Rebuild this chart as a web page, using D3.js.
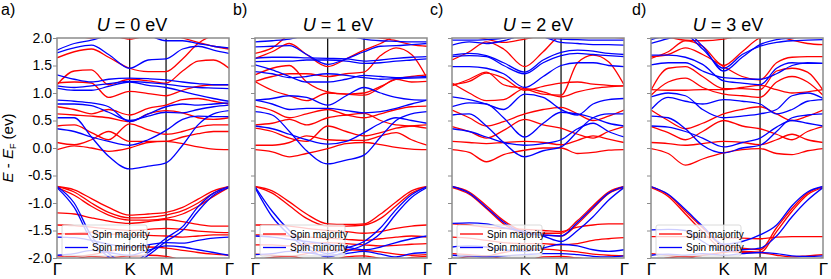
<!DOCTYPE html>
<html>
<head>
<meta charset="utf-8">
<script src="https://cdn.jsdelivr.net/npm/d3@7"></script>
<style>
  body { margin: 0; background: #fff; }
  svg { font-family: "Liberation Sans", Arial, sans-serif; }
</style>
</head>
<body>
<div id="chart"></div>
<script>
// k-path positions (fraction of Γ-K-M-Γ path) where band energies were read
const kGrid = [0, 0.1, 0.2, 0.3, 0.4226, 0.53, 0.634, 0.73, 0.82, 0.91, 1];
const kTicks = [0, 0.4226, 0.634, 1];
const kLabels = ["Γ", "K", "M", "Γ"];
const yTicks = [2.0, 1.5, 1.0, 0.5, 0.0, -0.5, -1.0, -1.5, -2.0];
const panelLetters = ["a)", "b)", "c)", "d)"];
const uValues = [0, 1, 2, 3];
const legendLabels = ["Spin majority", "Spin minority"];

// U = 0 eV
const majorityA = [
  [-0.70, -0.76, -0.92, -1.08, -1.22, -1.20, -1.17, -1.08, -0.93, -0.78, -0.70],
  [-0.70, -0.80, -1.00, -1.17, -1.27, -1.26, -1.22, -1.14, -1.00, -0.82, -0.70],
  [-0.72, -0.86, -1.06, -1.22, -1.31, -1.31, -1.28, -1.20, -1.06, -0.88, -0.72],
  [-1.18, -1.20, -1.27, -1.33, -1.37, -1.34, -1.30, -1.34, -1.39, -1.42, -1.42],
  [-1.40, -1.41, -1.44, -1.47, -1.50, -1.48, -1.46, -1.48, -1.51, -1.53, -1.54],
  [-1.56, -1.55, -1.53, -1.56, -1.58, -1.59, -1.60, -1.62, -1.60, -1.58, -1.58],
  [-1.96, -1.97, -1.94, -1.88, -1.80, -1.80, -1.82, -1.86, -1.90, -1.93, -1.95],
  [-2.06, -2.02, -1.97, -1.99, -1.96, -1.95, -1.97, -2.04, -2.08, -2.10, -2.10],
  [-0.03, 0.04, 0.00, -0.06, 0.00, 0.10, 0.12, 0.08, 0.02, -0.02, -0.03],
  [0.10, 0.06, 0.15, 0.30, 0.12, 0.12, 0.12, 0.20, 0.26, 0.30, 0.30],
  [0.40, 0.42, 0.28, 0.15, 0.44, 0.33, 0.25, 0.30, 0.38, 0.42, 0.42],
  [0.62, 0.60, 0.58, 0.55, 0.48, 0.62, 0.68, 0.64, 0.55, 0.52, 0.55],
  [0.75, 0.70, 0.62, 0.70, 0.60, 0.72, 0.78, 0.88, 0.90, 0.85, 0.80],
  [1.18, 1.20, 1.18, 0.92, 1.03, 0.99, 0.95, 1.05, 1.12, 1.15, 1.15],
  [1.15, 1.40, 1.42, 1.15, 1.25, 1.22, 1.18, 1.40, 1.58, 1.60, 1.45],
  [1.64, 1.75, 1.80, 1.65, 1.45, 1.39, 1.39, 1.62, 1.90, 2.05, 2.10],
  [2.10, 2.05, 2.00, 2.05, 1.98, 2.05, 2.10, 2.00, 1.92, 1.85, 1.80]
];
const minorityA = [
  [-0.70, -1.00, -1.60, -1.92, -2.10, -1.90, -1.64, -1.43, -1.07, -0.82, -0.70],
  [-0.72, -1.08, -1.68, -1.98, -2.15, -1.95, -1.70, -1.50, -1.15, -0.86, -0.72],
  [-1.62, -1.63, -1.68, -1.75, -1.80, -1.76, -1.72, -1.73, -1.68, -1.64, -1.62],
  [-1.95, -1.92, -1.86, -1.90, -1.95, -1.86, -1.78, -1.80, -1.85, -1.90, -1.95],
  [0.55, 0.55, 0.20, -0.15, -0.38, -0.33, -0.27, 0.05, 0.42, 0.62, 0.68],
  [0.35, 0.30, 0.20, 0.12, 0.05, 0.15, 0.32, 0.52, 0.58, 0.57, 0.57],
  [0.80, 0.80, 0.77, 0.65, 0.50, 0.58, 0.65, 0.64, 0.70, 0.75, 0.78],
  [0.87, 0.85, 0.82, 0.75, 0.48, 0.62, 0.75, 0.80, 0.78, 0.80, 0.82],
  [1.09, 1.05, 1.05, 1.12, 1.20, 1.14, 1.10, 1.03, 0.96, 0.90, 0.85],
  [1.13, 1.10, 1.13, 1.17, 1.21, 1.19, 1.16, 1.12, 1.10, 1.09, 1.08],
  [1.33, 1.25, 1.20, 1.25, 1.27, 1.26, 1.24, 1.20, 1.17, 1.15, 1.15],
  [1.73, 1.82, 1.87, 1.70, 1.45, 1.60, 1.62, 1.80, 1.85, 1.78, 1.72],
  [1.78, 1.90, 1.96, 2.05, 2.10, 2.05, 1.95, 1.95, 1.90, 1.85, 1.82]
];

// U = 1 eV
const majorityB = [
  [-0.70, -0.78, -0.98, -1.20, -1.38, -1.39, -1.38, -1.20, -0.98, -0.78, -0.70],
  [-0.70, -0.82, -1.05, -1.28, -1.42, -1.42, -1.40, -1.28, -1.05, -0.82, -0.70],
  [-1.40, -1.40, -1.42, -1.46, -1.50, -1.52, -1.55, -1.52, -1.46, -1.42, -1.40],
  [-1.58, -1.58, -1.60, -1.62, -1.64, -1.66, -1.68, -1.65, -1.62, -1.60, -1.62],
  [-1.76, -1.76, -1.78, -1.75, -1.72, -1.74, -1.76, -1.78, -1.77, -1.75, -1.74],
  [-1.93, -1.95, -1.97, -1.92, -1.86, -1.85, -1.86, -1.89, -1.93, -1.95, -1.94],
  [-2.04, -1.99, -1.97, -2.02, -2.05, -1.98, -1.96, -2.01, -2.05, -1.99, -1.97],
  [-0.03, -0.07, -0.16, -0.10, -0.01, 0.08, 0.10, 0.06, 0.01, -0.02, -0.03],
  [0.05, 0.05, 0.10, 0.22, 0.15, 0.14, 0.14, 0.22, 0.28, 0.15, 0.05],
  [0.36, 0.30, 0.18, 0.12, 0.40, 0.30, 0.22, 0.28, 0.36, 0.40, 0.42],
  [0.42, 0.45, 0.52, 0.42, 0.55, 0.60, 0.63, 0.50, 0.42, 0.40, 0.36],
  [0.76, 0.68, 0.55, 0.62, 0.70, 0.60, 0.55, 0.62, 0.70, 0.75, 0.76],
  [1.21, 1.05, 0.95, 0.86, 1.00, 0.98, 0.96, 1.10, 1.25, 1.20, 1.21],
  [1.33, 1.45, 1.50, 1.20, 1.02, 0.98, 1.00, 1.12, 1.25, 1.30, 1.33],
  [1.21, 1.30, 1.35, 1.35, 1.30, 1.35, 1.38, 1.68, 1.82, 1.70, 1.27],
  [1.63, 1.75, 1.90, 1.70, 1.48, 1.62, 1.78, 1.90, 2.05, 2.10, 2.10],
  [1.72, 1.82, 2.05, 2.10, 2.10, 2.10, 2.05, 2.00, 1.95, 1.88, 1.85]
];
const minorityB = [
  [-0.70, -1.15, -1.50, -1.75, -1.92, -1.82, -1.70, -1.45, -1.12, -0.85, -0.70],
  [-0.72, -1.25, -1.58, -1.82, -1.98, -1.88, -1.76, -1.55, -1.20, -0.90, -0.72],
  [-1.60, -1.62, -1.66, -1.70, -1.75, -1.80, -1.85, -1.80, -1.72, -1.65, -1.60],
  [-1.94, -1.92, -1.88, -1.90, -1.95, -1.92, -1.88, -1.93, -1.98, -1.92, -1.90],
  [0.66, 0.60, 0.30, -0.05, -0.29, -0.22, -0.13, 0.20, 0.50, 0.62, 0.66],
  [0.40, 0.35, 0.25, 0.15, 0.07, 0.12, 0.28, 0.45, 0.55, 0.50, 0.45],
  [0.87, 0.80, 0.70, 0.72, 0.72, 0.68, 0.64, 0.66, 0.72, 0.80, 0.87],
  [0.87, 0.90, 0.95, 0.92, 0.78, 0.95, 1.10, 1.00, 0.92, 0.88, 0.87],
  [1.39, 1.35, 1.28, 1.30, 1.35, 1.32, 1.28, 1.25, 1.26, 1.27, 1.28],
  [1.51, 1.42, 1.30, 1.20, 1.20, 1.25, 1.32, 1.30, 1.28, 1.29, 1.30],
  [1.57, 1.58, 1.58, 1.60, 1.60, 1.58, 1.54, 1.55, 1.58, 1.60, 1.62],
  [1.63, 1.65, 1.65, 1.64, 1.63, 1.62, 1.58, 1.60, 1.63, 1.65, 1.66],
  [1.84, 1.85, 1.86, 1.70, 1.52, 1.62, 1.75, 1.85, 1.86, 1.88, 1.90],
  [1.93, 1.95, 1.98, 2.05, 2.10, 2.05, 1.98, 1.95, 1.94, 1.93, 1.93]
];

// U = 2 eV
const majorityC = [
  [-0.70, -0.80, -1.05, -1.32, -1.52, -1.55, -1.55, -1.32, -1.05, -0.80, -0.70],
  [-0.72, -0.84, -1.10, -1.38, -1.56, -1.58, -1.60, -1.38, -1.10, -0.83, -0.72],
  [-1.38, -1.40, -1.44, -1.46, -1.48, -1.50, -1.52, -1.44, -1.40, -1.38, -1.38],
  [-1.62, -1.64, -1.68, -1.72, -1.74, -1.74, -1.76, -1.74, -1.68, -1.65, -1.63],
  [-1.92, -1.94, -1.96, -1.90, -1.84, -1.84, -1.86, -1.89, -1.93, -1.95, -1.96],
  [-2.05, -1.97, -1.96, -2.02, -2.05, -1.98, -1.97, -2.00, -2.03, -2.05, -2.05],
  [-0.03, -0.08, -0.25, -0.12, -0.04, 0.00, 0.00, -0.10, -0.08, -0.04, -0.03],
  [0.12, 0.10, 0.08, 0.10, 0.12, 0.10, 0.06, 0.14, 0.22, 0.16, 0.10],
  [0.39, 0.30, 0.18, 0.32, 0.52, 0.42, 0.36, 0.25, 0.18, 0.30, 0.39],
  [0.69, 0.55, 0.40, 0.48, 0.62, 0.70, 0.74, 0.62, 0.50, 0.58, 0.69],
  [1.18, 1.00, 0.86, 0.88, 1.08, 1.02, 0.93, 1.02, 1.08, 1.11, 1.13],
  [1.15, 1.21, 1.36, 1.27, 1.05, 1.12, 1.18, 1.20, 1.16, 1.14, 1.13],
  [1.13, 1.25, 1.38, 1.15, 1.08, 0.98, 0.96, 1.55, 1.69, 1.57, 1.15],
  [1.60, 1.75, 1.93, 1.80, 1.48, 1.75, 2.05, 2.10, 2.10, 2.10, 2.10],
  [2.10, 2.05, 1.98, 1.92, 1.98, 2.05, 2.10, 2.10, 2.05, 2.02, 2.00]
];
const minorityC = [
  [-0.70, -0.82, -1.08, -1.35, -1.55, -1.58, -1.60, -1.35, -1.08, -0.82, -0.70],
  [-1.37, -1.36, -1.38, -1.45, -1.52, -1.60, -1.70, -1.50, -1.25, -0.95, -0.72],
  [-1.80, -1.78, -1.80, -1.85, -1.88, -1.82, -1.75, -1.78, -1.85, -1.88, -1.85],
  [-1.95, -1.96, -1.98, -1.96, -1.94, -1.92, -1.92, -1.94, -1.97, -1.98, -1.96],
  [0.60, 0.62, 0.40, 0.10, -0.16, -0.05, 0.02, 0.30, 0.55, 0.62, 0.62],
  [0.35, 0.30, 0.20, 0.10, 0.05, 0.08, 0.15, 0.35, 0.45, 0.30, 0.20],
  [0.75, 0.82, 0.80, 0.55, 0.20, 0.45, 0.65, 0.62, 0.55, 0.45, 0.40],
  [0.93, 0.88, 0.80, 0.70, 0.98, 0.92, 0.70, 0.60, 0.80, 0.88, 0.90],
  [1.48, 1.48, 1.45, 1.35, 1.10, 1.30, 1.50, 1.55, 1.55, 1.50, 1.48],
  [1.66, 1.68, 1.66, 1.50, 1.35, 1.55, 1.68, 1.72, 1.70, 1.68, 1.66],
  [1.69, 1.72, 1.68, 1.55, 1.38, 1.60, 1.74, 1.78, 1.76, 1.72, 1.70],
  [1.87, 1.93, 1.90, 1.95, 2.05, 2.02, 1.92, 1.90, 1.88, 1.88, 1.87],
  [1.96, 1.96, 1.97, 2.00, 2.08, 2.02, 1.98, 1.97, 1.96, 1.96, 1.96]
];

// U = 3 eV
const majorityD = [
  [-0.70, -0.85, -1.15, -1.45, -1.78, -1.82, -1.85, -1.45, -1.10, -0.82, -0.70],
  [-0.72, -0.88, -1.20, -1.52, -1.85, -1.90, -1.90, -1.52, -1.15, -0.85, -0.72],
  [-1.61, -1.61, -1.61, -1.62, -1.63, -1.64, -1.65, -1.62, -1.61, -1.61, -1.61],
  [-1.92, -1.95, -1.98, -1.95, -1.90, -1.88, -1.90, -1.95, -1.98, -1.96, -1.94],
  [-2.05, -2.00, -1.97, -2.05, -2.10, -2.05, -2.00, -2.05, -2.10, -2.05, -2.00],
  [-0.01, -0.10, -0.31, -0.20, -0.09, -0.03, -0.01, -0.10, -0.12, -0.05, -0.01],
  [0.10, 0.08, 0.05, 0.08, 0.12, 0.10, 0.06, 0.15, 0.25, 0.15, 0.10],
  [0.39, 0.28, 0.15, 0.30, 0.50, 0.40, 0.35, 0.25, 0.15, 0.30, 0.39],
  [0.69, 0.50, 0.35, 0.45, 0.62, 0.70, 0.75, 0.62, 0.50, 0.58, 0.69],
  [0.96, 1.20, 1.27, 1.10, 0.98, 0.95, 0.92, 1.20, 1.30, 1.20, 0.96],
  [1.05, 1.45, 1.48, 1.30, 1.08, 1.08, 1.06, 1.40, 1.45, 1.38, 1.05],
  [1.06, 1.05, 1.05, 1.06, 1.06, 1.10, 1.14, 1.06, 1.00, 1.02, 1.06],
  [1.66, 1.70, 1.82, 1.70, 1.48, 1.30, 1.24, 1.55, 1.65, 1.66, 1.66],
  [1.63, 1.75, 1.95, 1.85, 1.50, 1.75, 2.00, 2.05, 2.08, 2.10, 2.10],
  [2.10, 2.02, 1.96, 1.95, 1.98, 2.05, 2.10, 2.05, 1.96, 1.90, 1.88]
];
const minorityD = [
  [-0.70, -0.84, -1.12, -1.42, -1.75, -1.70, -1.58, -1.40, -1.05, -0.80, -0.70],
  [-1.49, -1.48, -1.50, -1.70, -1.88, -1.85, -1.82, -1.60, -1.25, -0.95, -0.72],
  [-1.95, -1.93, -1.95, -1.92, -1.95, -1.92, -1.90, -1.92, -1.96, -1.97, -1.96],
  [0.58, 0.55, 0.35, 0.05, -0.09, 0.00, 0.05, 0.30, 0.55, 0.60, 0.62],
  [0.40, 0.38, 0.30, 0.18, 0.02, 0.10, 0.18, 0.38, 0.50, 0.45, 0.40],
  [0.93, 1.00, 0.95, 0.70, 0.55, 0.58, 0.62, 0.70, 0.95, 1.00, 0.90],
  [0.70, 0.92, 0.85, 0.80, 0.88, 0.85, 0.80, 0.62, 0.70, 0.85, 0.88],
  [1.51, 1.55, 1.55, 1.40, 1.28, 1.26, 1.25, 1.35, 1.50, 1.55, 1.54],
  [1.69, 1.69, 1.65, 1.52, 1.22, 1.18, 1.15, 1.45, 1.55, 1.54, 1.54],
  [1.90, 1.99, 2.05, 1.80, 1.45, 1.70, 1.85, 1.92, 1.95, 1.96, 1.97],
  [1.97, 2.05, 2.10, 1.85, 1.40, 1.65, 1.88, 1.97, 2.00, 2.02, 2.03]
];

const majority = [majorityA, majorityB, majorityC, majorityD];
const minority = [minorityA, minorityB, minorityC, minorityD];

const width = 831;
const height = 279;
const panelLeft = [57, 255, 452, 651];
const panelWidth = 172;
const titleCenter = [132, 338, 538, 728];
const letterX = [1, 233, 430, 632];
const plotTop = 38;
const plotBottom = 258;
const red = "#ff0000";
const blue = "#0000ff";
const frameColor = "#8c8c8c";

const svg = d3
  .select("#chart")
  .append("svg")
  .attr("width", width)
  .attr("height", height);

const y = d3.scaleLinear().domain([-2, 2]).range([plotBottom, plotTop]);

panelLeft.forEach((left, i) => {
  const x = d3.scaleLinear().domain([0, 1]).range([left, left + panelWidth]);
  const g = svg.append("g");

  g.append("clipPath")
    .attr("id", "clip" + i)
    .append("rect")
    .attr("x", left)
    .attr("y", plotTop)
    .attr("width", panelWidth)
    .attr("height", plotBottom - plotTop);

  const line = d3
    .line()
    .x((d, j) => x(kGrid[j]))
    .y((d) => y(d))
    .curve(d3.curveMonotoneX);

  const bands = g.append("g").attr("clip-path", "url(#clip" + i + ")");

  // K and M lines
  bands
    .selectAll("line.kline")
    .data([kTicks[1], kTicks[2]])
    .join("line")
    .attr("class", "kline")
    .attr("x1", (d) => x(d))
    .attr("x2", (d) => x(d))
    .attr("y1", plotTop)
    .attr("y2", plotBottom)
    .attr("stroke", "#000")
    .attr("stroke-width", 1.2);

  bands
    .selectAll("path.maj")
    .data(majority[i])
    .join("path")
    .attr("class", "maj")
    .attr("d", line)
    .attr("fill", "none")
    .attr("stroke", red)
    .attr("stroke-width", 1.3);

  bands
    .selectAll("path.min")
    .data(minority[i])
    .join("path")
    .attr("class", "min")
    .attr("d", line)
    .attr("fill", "none")
    .attr("stroke", blue)
    .attr("stroke-width", 1.3);

  // frame
  g.append("rect")
    .attr("x", left)
    .attr("y", plotTop)
    .attr("width", panelWidth)
    .attr("height", plotBottom - plotTop)
    .attr("fill", "none")
    .attr("stroke", frameColor)
    .attr("stroke-width", 1.5);

  // y ticks (labels only on first panel)
  const yAxis = d3
    .axisLeft(y)
    .tickValues(yTicks)
    .tickSize(4)
    .tickFormat((d) => d3.format(".1f")(d).replace("−", "-"));
  const ya = g.append("g").attr("transform", "translate(" + left + ",0)").call(yAxis);
  ya.select(".domain").remove();
  ya.selectAll(".tick line").attr("stroke", frameColor);
  ya.selectAll(".tick text")
    .attr("fill", "#000")
    .attr("font-size", 14)
    .attr("x", -5);
  if (i !== 0) ya.selectAll(".tick text").remove();

  // x tick labels
  const xAxis = d3.axisBottom(x).tickValues(kTicks).tickSize(0).tickFormat((d, j) => kLabels[j]);
  const xa = g.append("g").attr("transform", "translate(0," + plotBottom + ")").call(xAxis);
  xa.select(".domain").remove();
  xa.selectAll(".tick text").attr("fill", "#000").attr("font-size", 17).attr("dy", "0.95em").attr("y", 1);

  // title
  const title = g.append("text")
    .attr("x", titleCenter[i])
    .attr("y", 31)
    .attr("text-anchor", "middle")
    .attr("font-size", 18);
  title.append("tspan").attr("font-style", "italic").text("U");
  title.append("tspan").text(" = " + uValues[i] + " eV");

  // panel letter
  svg.append("text")
    .attr("x", letterX[i])
    .attr("y", 15)
    .attr("font-size", 16)
    .text(panelLetters[i]);

  // legend
  const lg = g.append("g").attr("transform", "translate(" + (left + 5) + ",225)");
  lg.append("rect")
    .attr("width", 85)
    .attr("height", 31)
    .attr("rx", 2)
    .attr("fill", "#fff")
    .attr("fill-opacity", 0.8)
    .attr("stroke", "#d0d0d0")
    .attr("stroke-width", 0.8);
  [red, blue].forEach((c, j) => {
    lg.append("line")
      .attr("x1", 3)
      .attr("x2", 26)
      .attr("y1", 9 + j * 13.5)
      .attr("y2", 9 + j * 13.5)
      .attr("stroke", c)
      .attr("stroke-width", 1.3);
    lg.append("text")
      .attr("x", 30)
      .attr("y", 9 + j * 13.5)
      .attr("dy", "0.35em")
      .attr("font-size", 10)
      .text(legendLabels[j]);
  });
});

// y axis label
const yl = svg.append("text")
  .attr("transform", "translate(13," + ((plotTop + plotBottom) / 2 + 0) + ") rotate(-90)")
  .attr("text-anchor", "middle")
  .attr("font-size", 15);
yl.append("tspan").attr("font-style", "italic").text("E");
yl.append("tspan").text(" - ");
yl.append("tspan").attr("font-style", "italic").text("E");
yl.append("tspan").attr("font-size", 9).attr("dy", 3).text("F");
yl.append("tspan").attr("dy", -3).text(" (ev)");
</script>
</body>
</html>
